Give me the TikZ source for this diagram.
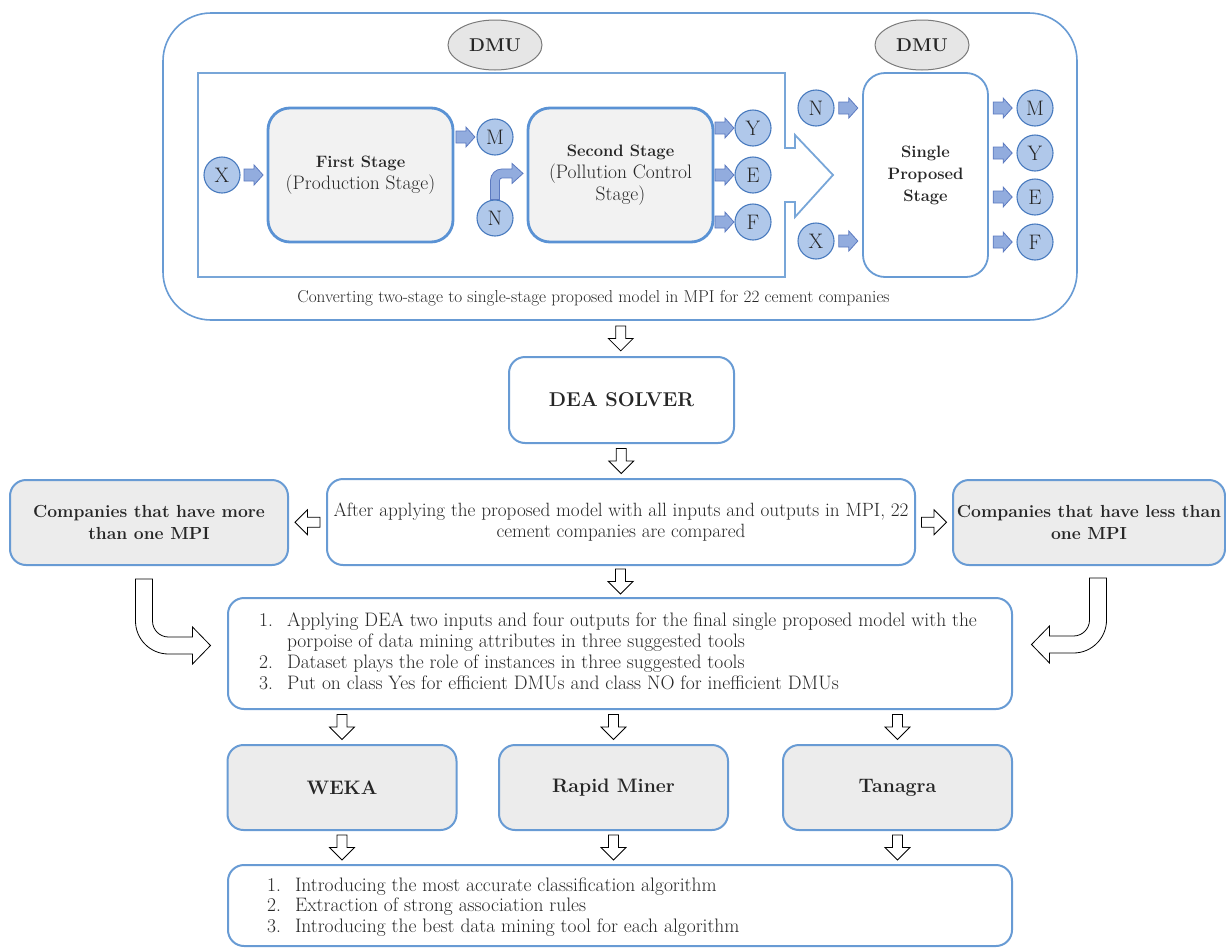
\documentclass[tikz,border=0pt]{standalone}
\usepackage{xcolor}
\usepackage{tikz}
\usetikzlibrary{shapes.geometric}
\usetikzlibrary{calc}

\definecolor{boxedge}{RGB}{104,155,212}
\definecolor{frameedge}{RGB}{120,166,216}
\definecolor{stageedge}{RGB}{90,146,212}
\definecolor{stagefill}{RGB}{242,242,242}
\definecolor{greyfill}{RGB}{236,236,236}
\definecolor{circfill}{RGB}{176,200,234}
\definecolor{circedge}{RGB}{72,122,190}
\definecolor{arrfill}{RGB}{146,172,222}
\definecolor{arredge}{RGB}{92,122,192}
\definecolor{dmufill}{RGB}{230,230,230}
\definecolor{dmuedge}{RGB}{122,122,122}
\definecolor{txt}{RGB}{38,38,38}

\newcommand{\stagehead}[1]{{\bfseries\fontsize{16.5}{22}\selectfont #1}}

\begin{document}
\begin{tikzpicture}[x=1pt,y=-1pt,
    panel/.style={draw=boxedge, line width=1.6pt, rounded corners=48pt},
    frame/.style={draw=frameedge, line width=1.8pt},
    dmu/.style={ellipse, draw=dmuedge, fill=dmufill, line width=1pt, minimum width=94pt, minimum height=50pt, text=txt, font=\bfseries\fontsize{18.5}{20}\selectfont},
    stage/.style={draw=stageedge, fill=stagefill, line width=2.8pt, rounded corners=22pt, align=center, text=txt, font=\fontsize{19.5}{22}\selectfont},
    single/.style={draw=boxedge, fill=white, line width=1.8pt, rounded corners=22pt, align=center, text=txt, font=\bfseries\fontsize{16.5}{22}\selectfont},
    letter/.style={circle, draw=circedge, fill=circfill, line width=1.1pt, minimum size=36pt, inner sep=0pt, text=txt, font=\fontsize{21}{21}\selectfont},
    plain/.style={draw=boxedge, fill=white, line width=2pt, rounded corners=16pt, align=center, text=txt, font=\fontsize{19.2}{20.5}\selectfont},
    grey/.style={draw=boxedge, fill=greyfill, line width=2pt, rounded corners=16pt, align=center, text=txt, font=\bfseries\fontsize{17.5}{22}\selectfont},
    tool/.style={minimum width=229pt, minimum height=85pt, font=\bfseries\fontsize{19.5}{22}\selectfont},
    note/.style={text=txt, inner sep=0pt, font=\fontsize{17.2}{18}\selectfont},
    listtxt/.style={text=txt, inner sep=0pt, font=\fontsize{19.5}{21}\selectfont},
    warr/.style={draw=black, fill=white, line width=0.8pt},
    barr/.style={draw=arredge, fill=arrfill, line width=0.8pt},
    downarr/.pic={\draw[warr] (-5,-12.5) -- (5,-12.5) -- (5,0) -- (12.5,0) -- (0,12.5) -- (-12.5,0) -- (-5,0) -- cycle;},
    bluearr/.pic={\draw[barr] (-9.5,-6) -- (0.5,-6) -- (0.5,-10) -- (9.5,0) -- (0.5,10) -- (0.5,6) -- (-9.5,6) -- cycle;},
    nbend/.pic={\draw[barr] (-4.5,0) -- (-4.5,-19) arc[start angle=180, end angle=270, radius=11.5] -- (17,-30.5) -- (17,-36) -- (28,-26) -- (17,-16) -- (17,-21.5) -- (7,-21.5) arc[start angle=270, end angle=180, radius=2.5] -- (4.5,0) -- cycle;},
    bendarr/.pic={\draw[warr] (-8.5,0) -- (-8.5,42) arc[start angle=180, end angle=90, radius=33] -- (48.5,75) -- (48.5,85) -- (66.5,66.5) -- (48.5,48) -- (48.5,58) -- (24.5,58) arc[start angle=90, end angle=180, radius=16] -- (8.5,0) -- cycle;}]
    \useasboundingbox (0,0) rectangle (1226,948);
    %
    %top panel
    \node[panel, minimum width=914pt, minimum height=307pt] (panel) at (620,166.5) {};
    \node[note] (caption) at (593.5,298) {Converting two-stage to single-stage proposed model in MPI for 22 cement companies};
    \node[dmu] (dmuA) at (495,45) {DMU};
    \node[dmu] (dmuB) at (922,45) {DMU};
    %frame with arrow
    \draw[frame] (198,73) -- (785,73) -- (785,148) -- (795,148) -- (795,135) -- (833,175) -- (795,217) -- (795,202) -- (785,202) -- (785,277) -- (198,277) -- cycle;
    %stages
    \node[stage, minimum width=185pt, minimum height=134pt] (first) at (360.5,175) {\stagehead{First Stage}\\(Production Stage)};
    \node[stage, minimum width=185pt, minimum height=134pt] (second) at (620.5,175) {\stagehead{Second Stage}\\(Pollution Control\\Stage)};
    \node[single, minimum width=125pt, minimum height=204pt] (single) at (925.5,175) {Single\\Proposed\\Stage};
    %inputs and outputs
    \node[letter] (x1) at (222,175) {X};
    \pic at ($(x1.east)!0.5!(first.west)$) {bluearr};
    \node[letter] (m1) at (495,137) {M};
    \pic at ($(first.east |- m1)!0.5!(m1.west)$) {bluearr};
    \node[letter] (n1) at (495,218) {N};
    \pic at (n1.north) {nbend};
    \foreach \n/\l/\py in {y1/Y/128, e1/E/175, f1/F/222} {
        \node[letter] (\n) at (753,\py) {\l};
        \pic at ($(second.east |- \n)!0.5!(\n.west)$) {bluearr};
    }
    \foreach \n/\l/\py in {n2/N/108, x2/X/241} {
        \node[letter] (\n) at (816,\py) {\l};
        \pic at ($(\n.east)!0.5!(\n.east -| single.west)$) {bluearr};
    }
    \foreach \n/\l/\py in {m3/M/108, y3/Y/153, e3/E/197, f3/F/242} {
        \node[letter] (\n) at (1035,\py) {\l};
        \pic at ($(single.east |- \n)!0.5!(\n.west)$) {bluearr};
    }
    %
    %solver and comparison
    \node[plain, minimum width=225pt, minimum height=86pt, font=\bfseries\fontsize{20}{22}\selectfont] (dea) at (621.5,400) {DEA SOLVER};
    \pic at ($(panel.south)!0.5!(dea.north)$) {downarr};
    \node[plain, minimum width=588pt, minimum height=86pt] (mid) at (621,522) {After applying the proposed model with all inputs and outputs in MPI, 22\\cement companies are compared};
    \pic at ($(dea.south)!0.5!(mid.north)$) {downarr};
    \node[grey, minimum width=278pt, minimum height=85pt] (more) at (149,522.5) {Companies that have more\\than one MPI};
    \node[grey, minimum width=272pt, minimum height=85pt, inner xsep=2pt] (less) at (1089,522.5) {Companies that have less than\\one MPI};
    \pic[rotate=-90] at ($(mid.west)!0.5!(more.east)$) {downarr};
    \pic[rotate=90] at ($(mid.east)!0.5!(less.west)$) {downarr};
    %
    %data mining list
    \node[plain, minimum width=784pt, minimum height=111pt] (apply) at (620,653.5) {};
    \node[listtxt, anchor=base west] (applytxt) at (259,626) {\begin{tabular}[t]{@{}l@{\hspace{14pt}}l@{}}
        1. & Applying DEA two inputs and four outputs for the final single proposed model with the\\
           & porpoise of data mining attributes in three suggested tools\\
        2. & Dataset plays the role of instances in three suggested tools\\
        3. & Put on class Yes for efficient DMUs and class NO for inefficient DMUs
        \end{tabular}};
    \pic at ($(mid.south)!0.5!(apply.north)$) {downarr};
    \pic at ($(more.south)+(-5,13)$) {bendarr};
    \pic[xscale=-1] at ($(less.south)+(9,12)$) {bendarr};
    %
    %tools and results
    \node[plain, minimum width=784pt, minimum height=81pt] (result) at (620,905.5) {};
    \node[listtxt, anchor=base west] (resulttxt) at (267,891) {\begin{tabular}[t]{@{}l@{\hspace{14pt}}l@{}}
        1. & Introducing the most accurate classification algorithm\\[-0.5pt]
        2. & Extraction of strong association rules\\[-0.5pt]
        3. & Introducing the best data mining tool for each algorithm
        \end{tabular}};
    \foreach \n/\t/\px in {weka/WEKA/342, rapid/Rapid Miner/613.5, tanagra/Tanagra/897.5} {
        \node[grey, tool] (\n) at (\px,787.5) {\t};
        \pic at ($(apply.south -| \n)!0.5!(\n.north)$) {downarr};
        \pic at ($(\n.south)!0.5!(\n.south |- result.north)$) {downarr};
    }
    %
\end{tikzpicture}
\end{document}
